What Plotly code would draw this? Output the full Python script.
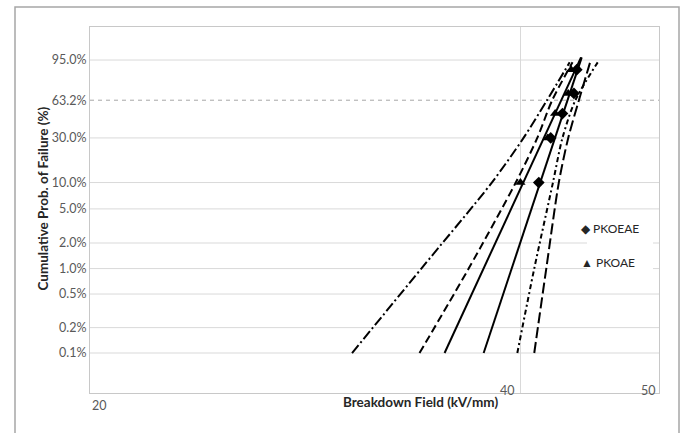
import numpy as np
import plotly.graph_objects as go

# ---- data ----
prob_tick_pct = [0.1, 0.2, 0.5, 1, 2, 5, 10, 30, 63.2, 95]
prob_tick_text = ["0.1%", "0.2%", "0.5%", "1.0%", "2.0%", "5.0%", "10.0%", "30.0%", "63.2%", "95.0%"]

# median-rank plotting positions of the measured points (%)
point_prob_pct = [10, 30, 50, 70, 90]
pkoeae_kv = [41.2, 42.0, 42.8, 43.6, 43.8]
pkoae_kv = [40.0, 41.8, 42.3, 43.2, 43.4]

# Weibull fit lines (two end points each)
fit_prob_pct = [0.1, 96]
fit_pkoae_kv = [35.4, 44.1]
fit_pkoeae_kv = [37.7, 44.15]

# confidence bounds (curved), read at several probability levels
bound_prob_pct = [0.1, 1, 10, 30, 63.2, 94]
bound_a_low_kv = [30.5, 34.1, 38.2, 40.2, 41.75, 43.3]
bound_b_low_kv = [34.0, 36.8, 39.7, 41.1, 42.1, 43.5]
bound_a_high_kv = [39.8, 40.9, 42.15, 42.8, 43.7, 45.3]
bound_b_high_kv = [40.9, 41.7, 42.55, 43.2, 43.95, 44.75]


def wb(p):
    p = np.asarray(p, dtype=float) / 100.0
    return np.log(-np.log(1.0 - p))


FONT = "Lato, 'Open Sans', sans-serif"
fig = go.Figure()

lines = [
    (bound_prob_pct, bound_a_low_kv, "10px,3px,2px,3px"),
    (bound_prob_pct, bound_b_low_kv, "8px,4px"),
    (fit_prob_pct, fit_pkoae_kv, "solid"),
    (fit_prob_pct, fit_pkoeae_kv, "solid"),
    (bound_prob_pct, bound_a_high_kv, "5px,3px,2px,3px"),
    (bound_prob_pct, bound_b_high_kv, "11px,4px"),
]
for pr, xv, dash in lines:
    fig.add_trace(go.Scatter(
        x=xv, y=wb(pr), mode="lines",
        line=dict(color="black", width=2, dash=dash, shape="spline", smoothing=0.8),
        showlegend=False, hoverinfo="skip"))

fig.add_trace(go.Scatter(x=pkoeae_kv, y=wb(point_prob_pct), mode="markers", name="PKOEAE",
                         marker=dict(symbol="diamond", size=9, color="black"), showlegend=False))
fig.add_trace(go.Scatter(x=pkoae_kv, y=wb(point_prob_pct), mode="markers", name="PKOAE",
                         marker=dict(symbol="triangle-up", size=9, color="black"), showlegend=False))

W, H = 685, 433
L, R, T, B = 90, 659, 27, 393


def px(x):
    return (x - L) / (R - L)


def py(y):
    return (B - y) / (B - T)


shapes = []
grid_color = "#d9d9d9"
for p in prob_tick_pct:
    if p == 63.2:
        continue
    shapes.append(dict(type="line", xref="paper", yref="y", x0=0, x1=1,
                       y0=float(wb(p)), y1=float(wb(p)),
                       line=dict(color=grid_color, width=1), layer="below"))
shapes.append(dict(type="line", xref="paper", yref="y", x0=0, x1=1,
                   y0=float(wb(63.2)), y1=float(wb(63.2)),
                   line=dict(color="#a6a6a6", width=1, dash="4px,4px"), layer="below"))
# legend background
shapes.append(dict(type="rect", xref="paper", yref="paper", x0=px(587), x1=px(653),
                   y0=py(280), y1=py(213), fillcolor="white", line=dict(width=0), layer="below"))
# outer chart border
shapes.append(dict(type="rect", xref="paper", yref="paper", x0=px(15), x1=px(679),
                   y0=py(445), y1=py(7), line=dict(color="#a6a6a6", width=1.5)))

tick_font = dict(family=FONT, size=12.5, color="#595959")
title_font = dict(family=FONT, size=13.5, color="#262626")
annotations = [
    dict(text="20", x=px(90), y=py(415), xref="paper", yref="paper", showarrow=False, font=tick_font),
    dict(text="40", x=px(517), y=py(400), xref="paper", yref="paper", showarrow=False, font=tick_font),
    dict(text="50", x=px(658), y=py(400), xref="paper", yref="paper", showarrow=False, font=tick_font),
    dict(text="<b>Breakdown Field (kV/mm)</b>", x=px(420), y=py(412), xref="paper", yref="paper",
         showarrow=False, font=title_font),
    dict(text="<b>Cumulative Prob. of Failure (%)</b>", x=px(32), y=py(198.5), xref="paper", yref="paper",
         showarrow=False, textangle=-90, font=title_font),
    dict(text="◆ PKOEAE", x=px(579), y=py(228), xref="paper", yref="paper", xanchor="left",
         showarrow=False, font=dict(family=FONT, size=12, color="#262626")),
    dict(text="▲ PKOAE", x=px(579), y=py(262), xref="paper", yref="paper", xanchor="left",
         showarrow=False, font=dict(family=FONT, size=12, color="#262626")),
]

fig.update_layout(
    width=W, height=H,
    margin=dict(l=L, r=W - R, t=T, b=H - B),
    paper_bgcolor="white", plot_bgcolor="white",
    showlegend=False,
    shapes=shapes, annotations=annotations,
    xaxis=dict(type="log", range=[np.log10(20), np.log10(50)], tickvals=[40],
               showticklabels=False, showgrid=True, gridcolor=grid_color, gridwidth=1,
               showline=True, linecolor="#c8c8c8", linewidth=1, mirror=True, ticks="",
               zeroline=False),
    yaxis=dict(range=[-8, 2], tickvals=[float(v) for v in wb(prob_tick_pct)], ticktext=prob_tick_text,
               showgrid=False, showline=True, linecolor="#c8c8c8", linewidth=1, mirror=True,
               ticks="", tickfont=tick_font, zeroline=False),
)

fig.write_html("out.html")
